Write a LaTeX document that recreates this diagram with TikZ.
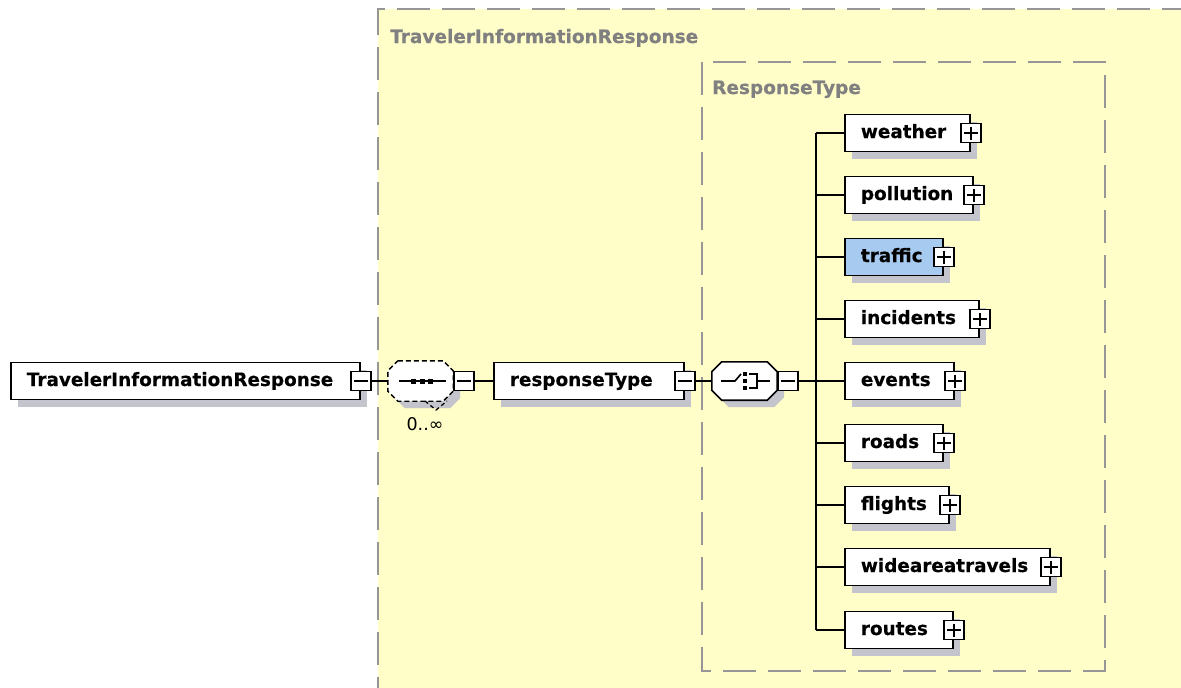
\documentclass[tikz,border=0pt]{standalone}
\usepackage{fontspec}
\setmainfont{DejaVu Sans}[BoldFeatures={FakeBold=0.4}]
\usetikzlibrary{shadows,calc}
\definecolor{bgy}{RGB}{255,253,200}
\definecolor{dashg}{RGB}{150,150,150}
\definecolor{shadowc}{RGB}{196,196,204}
\definecolor{bluef}{RGB}{166,202,240}
\definecolor{labelg}{RGB}{128,128,128}
\newcommand\octo[4]{\draw[#2] ($(#1.north west)+(10+#3,#4)$) -- ($(#1.north east)+(-10+#3,#4)$) -- ($(#1.north east)+(#3,10+#4)$) -- ($(#1.south east)+(#3,-10+#4)$) -- ($(#1.south east)+(-10+#3,#4)$) -- ($(#1.south west)+(10+#3,#4)$) -- ($(#1.south west)+(#3,-10+#4)$) -- ($(#1.north west)+(#3,10+#4)$) -- cycle;}
\newcommand\elt[2]{\makebox[#1pt][l]{#2}}
\begin{document}
\begin{tikzpicture}[x=1pt,y=-1pt,line join=miter,
  elem/.style={draw, line width=1.8pt, fill=white, anchor=west, minimum height=37pt,
    inner xsep=16pt, inner ysep=0pt, text height=13.5pt, text depth=3.5pt,
    font=\fontsize{18.4}{20}\selectfont\bfseries,
    drop shadow={shadow xshift=7pt, shadow yshift=-7pt, fill=shadowc, opacity=1}},
  pbox/.style={draw, line width=1.5pt, fill=white, minimum width=20pt, minimum height=19pt, inner sep=0pt,
    path picture={\draw[line width=1.5pt] ([xshift=3pt]path picture bounding box.west) -- ([xshift=-3pt]path picture bounding box.east)
      ([yshift=-3pt]path picture bounding box.north) -- ([yshift=3pt]path picture bounding box.south);}},
  mbox/.style={draw, line width=1.5pt, fill=white, minimum width=20pt, minimum height=19pt, inner sep=0pt,
    path picture={\draw[line width=1.5pt] ([xshift=3pt]path picture bounding box.west) -- ([xshift=-3pt]path picture bounding box.east);}},
  comp/.style={draw=none, inner sep=0pt},
  conn/.style={draw=black, line width=1.6pt},
  bdash/.style={draw=dashg, line width=2pt, dash pattern=on 33pt off 12pt},
  glabel/.style={text=labelg, font=\fontsize{18.5}{20}\selectfont\bfseries, inner sep=0pt}
]
\useasboundingbox (0,0) rectangle (1181,688);
\clip (0,0) rectangle (1181,688);
% outer group
\fill[bgy] (378,9) rectangle (1200,710);
\draw[bdash] (378,710) -- (378,9) -- (1200,9);
\node[glabel, anchor=base west] (outerlbl) at (390,43) {TravelerInformationResponse};
% inner group
\draw[bdash] (702,62) rectangle (1105,671);
\node[glabel, anchor=base west] (innerlbl) at (712,94) {ResponseType};

% root element
\node[elem] (tir) at (10,381) {\elt{317}{TravelerInformationResponse}};
\node[mbox] (tirm) at (tir.east) {};

% sequence compositor
\node[comp, minimum width=65pt, minimum height=40pt] (seq) at (420.5,381) {};
\octo{seq}{fill=shadowc, draw=none}{7}{7}
\octo{seq}{fill=white, draw=black, line width=1.4pt, dash pattern=on 5pt off 3pt}{0}{0}
\draw[black, line width=1.3pt, dash pattern=on 4pt off 3pt] (425,401) -- (436,410) -- (447,401);
\begin{scope}[shift={(seq.center)}]
  \draw[line width=1.6pt] (-21.5,0) -- (25.5,0);
  \foreach \dx in {-7.5,1.5,9.5} \fill (\dx-2.5,-2.5) rectangle (\dx+2.5,2.5);
\end{scope}
\node[mbox, anchor=west] (seqm) at (seq.east) {};
\node[font=\fontsize{17.5}{18}\selectfont, inner sep=0pt] (card) at (425,424) {0..∞};

% responseType
\node[elem] (rt) at (493,381) {\elt{158}{responseType}};
\node[mbox] (rtm) at (rt.east) {};

% choice compositor
\node[comp, minimum width=65pt, minimum height=38pt] (ch) at (744.5,381) {};
\octo{ch}{fill=shadowc, draw=none}{7}{7}
\octo{ch}{fill=white, draw=black, line width=1.6pt}{0}{0}
\begin{scope}[shift={(ch.center)}]
  \draw[line width=1.6pt] (-23.5,0) -- (-9.5,0) -- (-3.5,-7);
  \foreach \dy in {-7,0,7} \fill (-1.75,\dy-2.25) rectangle (2.75,\dy+2.25);
  \draw[line width=1.6pt] (4.5,-7) -- (12.5,-7) -- (12.5,7) -- (4.5,7);
  \draw[line width=1.6pt] (12.5,0) -- (25.5,0);
\end{scope}
\node[mbox, anchor=west] (chm) at (ch.east) {};
\coordinate (trunk) at (816,381);

% children
\node[elem] (weather) at (844,133) {\elt{93}{weather}};
\node[elem] (pollution) at (844,195) {\elt{96}{pollution}};
\node[elem, fill=bluef] (traffic) at (844,257) {\elt{66}{traffic}};
\node[elem] (incidents) at (844,319) {\elt{102}{incidents}};
\node[elem] (events) at (844,381) {\elt{77}{events}};
\node[elem] (roads) at (844,443) {\elt{66}{roads}};
\node[elem] (flights) at (844,505) {\elt{72}{flights}};
\node[elem] (wide) at (844,567) {\elt{173}{wideareatravels}};
\node[elem] (routes) at (844,630) {\elt{76}{routes}};
\foreach \n in {weather,pollution,traffic,incidents,events,roads,flights,wide,routes}
  \node[pbox] (\n p) at (\n.east) {};

% connectors
\draw[conn] (tirm.east) -- (seq.west);
\draw[conn] (seqm.east) -- (rt.west);
\draw[conn] (rtm.east) -- (ch.west);
\draw[conn] (chm.east) -- (trunk);
\draw[conn] (trunk |- weather.west) -- (trunk |- routes.west);
\foreach \n in {weather,pollution,traffic,incidents,events,roads,flights,wide,routes}
  \draw[conn] (trunk |- \n.west) -- (\n.west);
\end{tikzpicture}
\end{document}
